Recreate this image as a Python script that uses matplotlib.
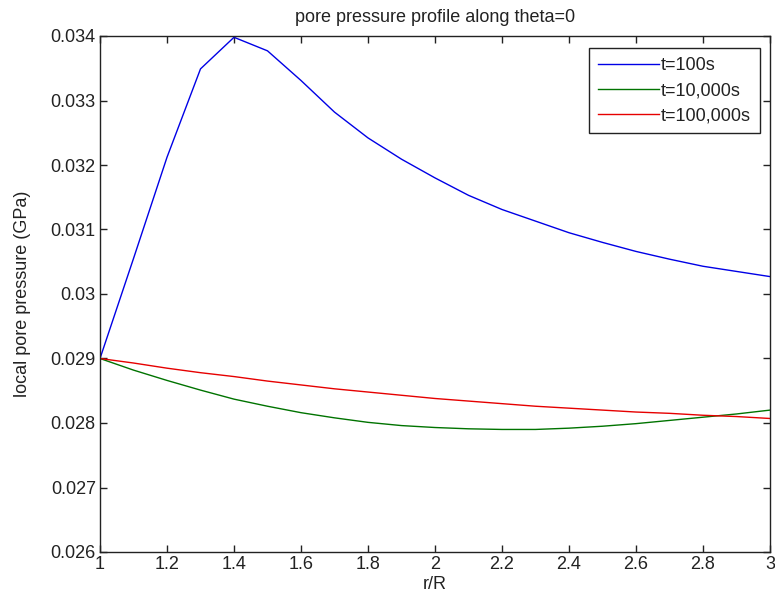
import numpy as np
from matplotlib import pyplot as plt

plt.rcParams['font.family'] = ['Liberation Sans', 'DejaVu Sans']

r = [1.0, 1.1, 1.2, 1.3, 1.4, 1.5, 1.6, 1.7, 1.8, 1.9, 2.0,
     2.1, 2.2, 2.3, 2.4, 2.5, 2.6, 2.7, 2.8, 2.9, 3.0]

p_100 = [0.02900, 0.03055, 0.03212, 0.03349, 0.03398, 0.03377, 0.03331,
         0.03282, 0.03242, 0.03209, 0.03180, 0.03153, 0.03131, 0.03113,
         0.03095, 0.03080, 0.03066, 0.03054, 0.03043, 0.03035, 0.03027]

p_10000 = [0.02900, 0.02882, 0.02866, 0.02851, 0.02837, 0.02826, 0.02816,
           0.02808, 0.02801, 0.02796, 0.02793, 0.02791, 0.02790, 0.02790,
           0.02792, 0.02795, 0.02799, 0.02804, 0.02809, 0.02814, 0.02820]

p_100000 = [0.02900, 0.02893, 0.02885, 0.02878, 0.02872, 0.02865, 0.02859,
            0.02853, 0.02848, 0.02843, 0.02838, 0.02834, 0.02830, 0.02826,
            0.02823, 0.02820, 0.02817, 0.02815, 0.02812, 0.02810, 0.02807]

labels = ['t=100s', 't=10,000s', 't=100,000s']

fig = plt.figure(figsize=(7.75, 6.07), dpi=100)
ax = fig.add_axes([100 / 775, 1 - 552 / 607, 670 / 775, 516 / 607])

ax.plot(r, p_100, color=(0, 0, 0.9), lw=1.0, label=labels[0])
ax.plot(r, p_10000, color=(0, 0.45, 0), lw=1.0, label=labels[1])
ax.plot(r, p_100000, color=(0.9, 0, 0), lw=1.0, label=labels[2])

ax.set_xlim(1, 3)
ax.set_ylim(0.026, 0.034)
ax.set_xticks(np.arange(1, 3.01, 0.2))
ax.set_xticklabels(['1', '1.2', '1.4', '1.6', '1.8', '2', '2.2', '2.4', '2.6', '2.8', '3'])
ax.set_yticks(np.arange(0.026, 0.03401, 0.001))
ax.set_yticklabels(['0.026', '0.027', '0.028', '0.029', '0.03', '0.031', '0.032', '0.033', '0.034'])
ax.tick_params(direction='in', top=True, right=True, length=5, width=1,
               labelsize=13, pad=3, colors='#222222')
for s in ax.spines.values():
    s.set_linewidth(1)
    s.set_color('#222222')

ax.set_xlabel('r/R', fontsize=13, labelpad=2, color='#222222')
ax.set_ylabel('local pore pressure (GPa)', fontsize=13, labelpad=14, color='#222222')
ax.set_title('pore pressure profile along theta=0', fontsize=13, pad=10, color='#222222')

leg = ax.legend(loc='upper right', bbox_to_anchor=(0.985, 0.977),
                borderaxespad=0, fancybox=False, edgecolor='#222222',
                fontsize=13, handlelength=3.4, handletextpad=0.1,
                labelspacing=0.45, borderpad=0.5)
leg.get_frame().set_linewidth(1)
leg.get_frame().set_alpha(1)
for t in leg.get_texts():
    t.set_color('#222222')

fig.savefig('out.png', dpi=100)
